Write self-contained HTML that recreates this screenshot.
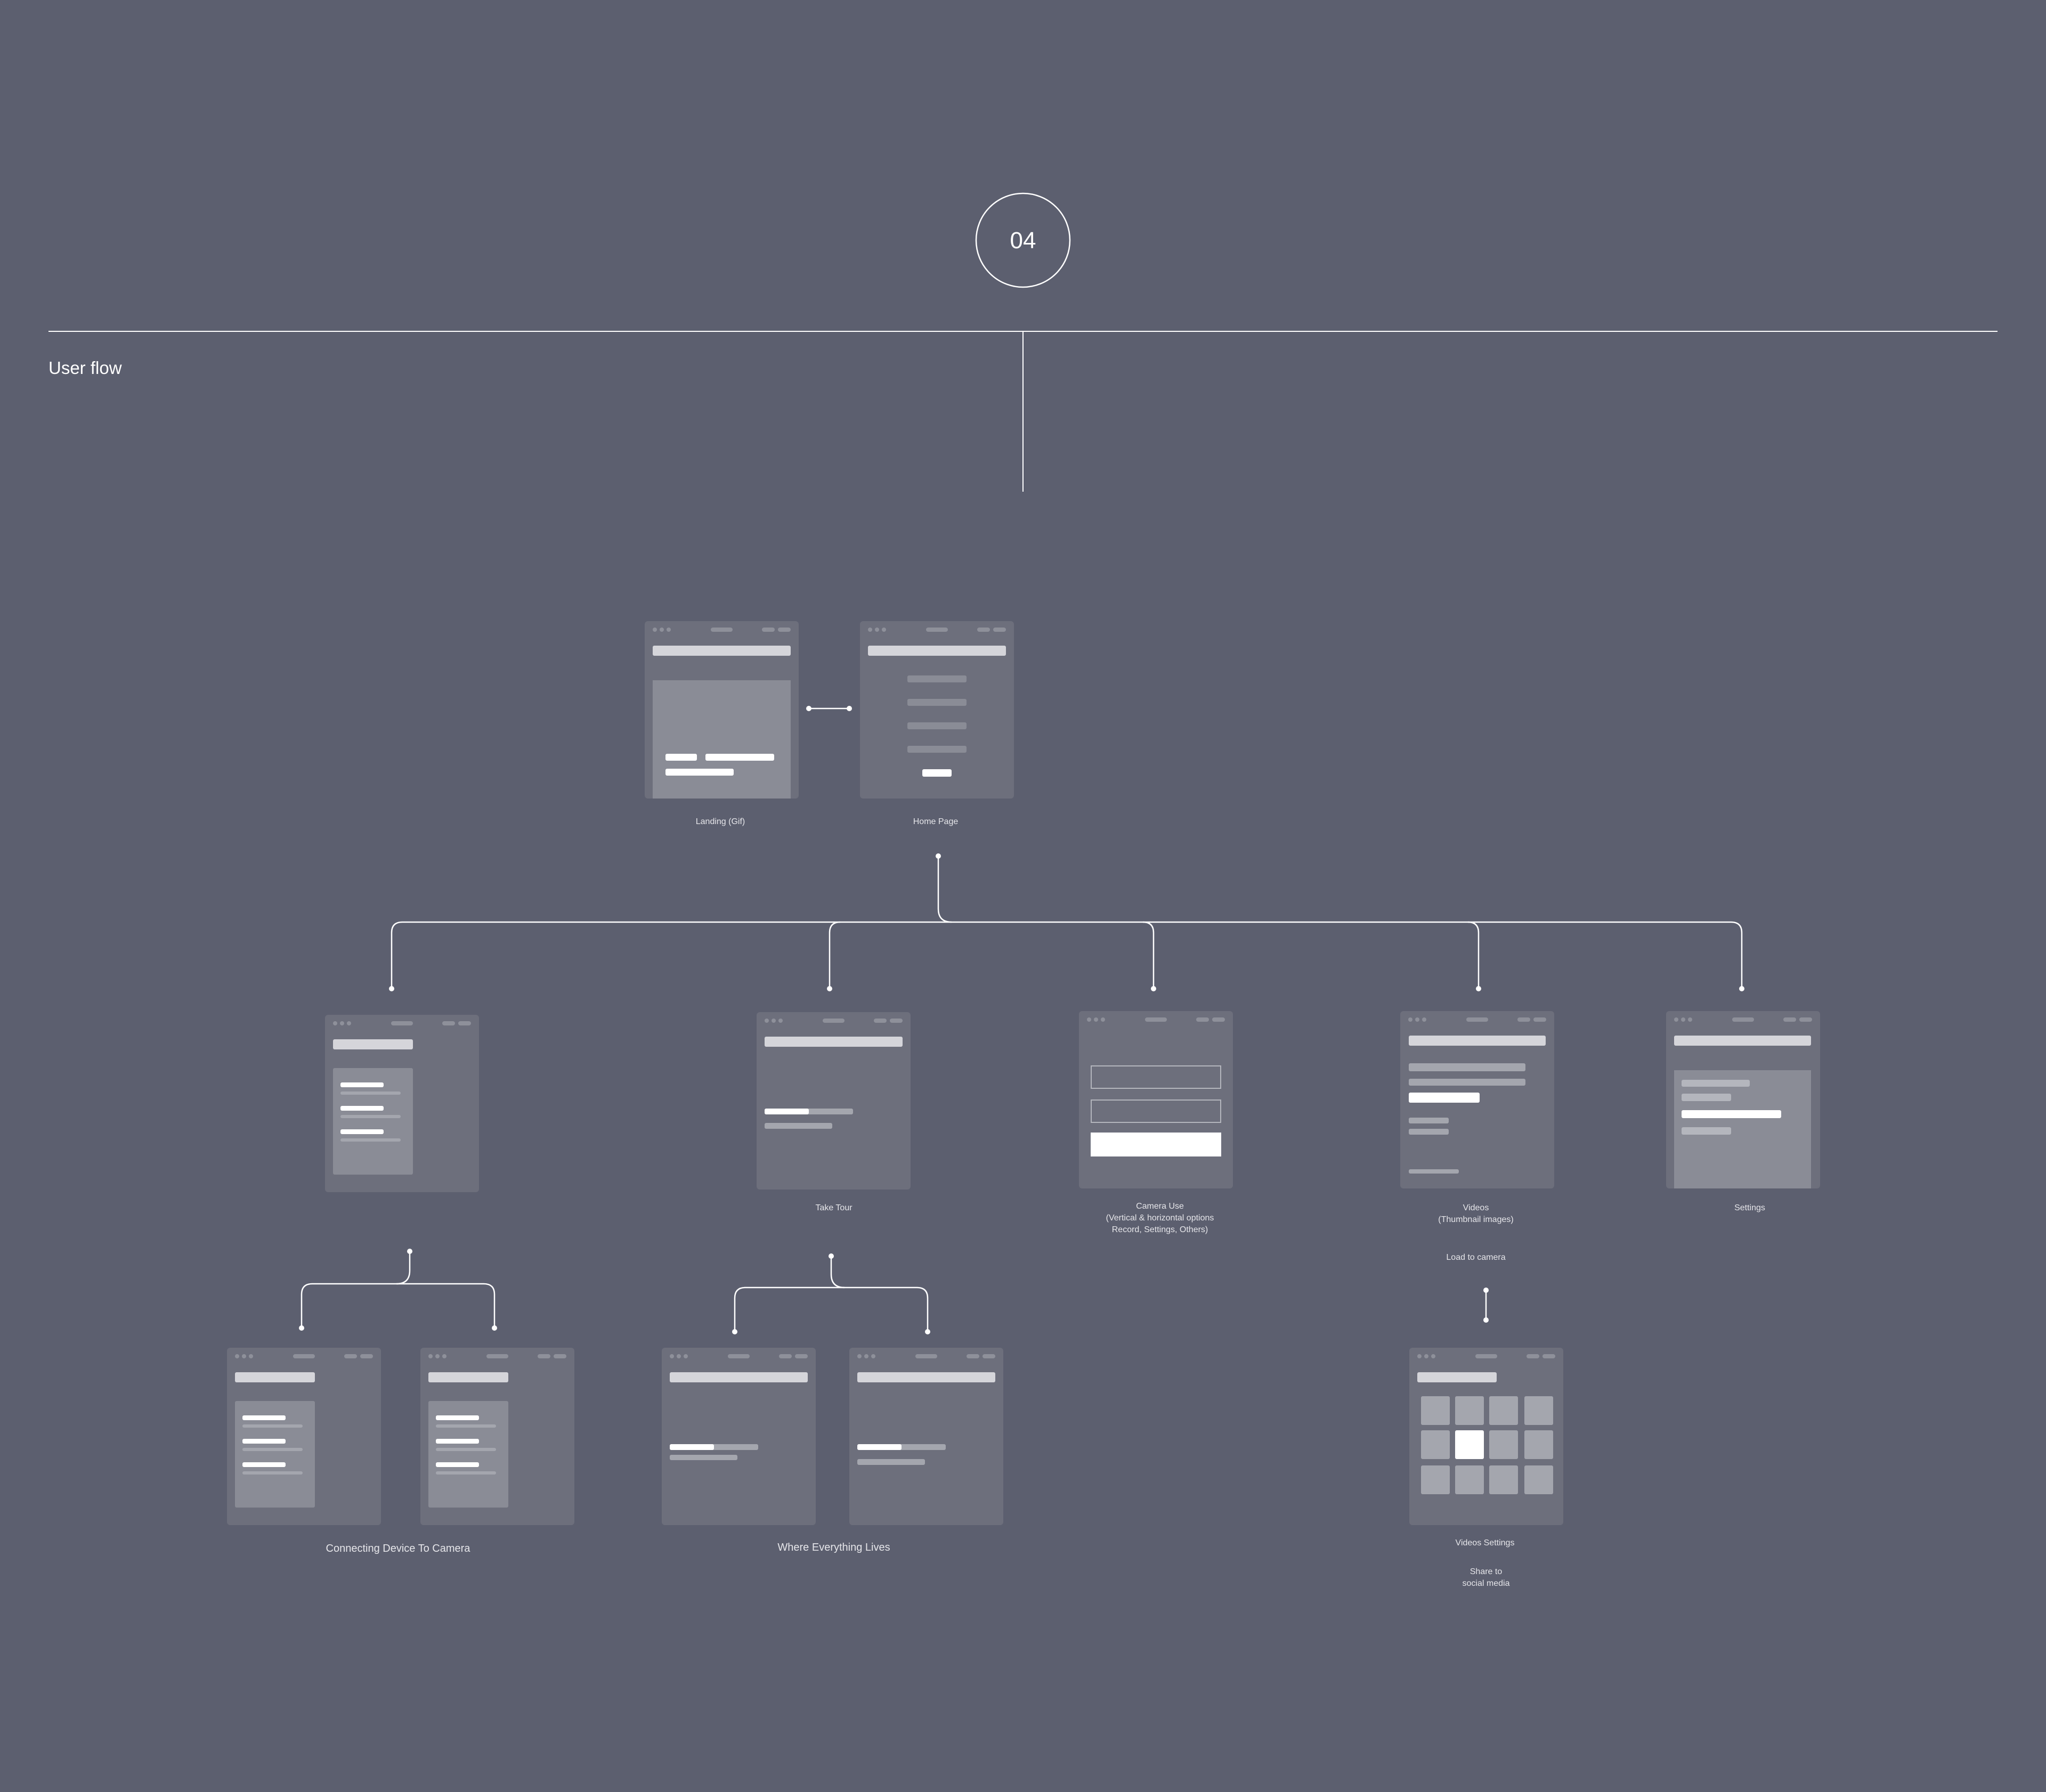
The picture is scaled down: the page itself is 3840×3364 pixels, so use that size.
<!DOCTYPE html>
<html><head><meta charset="utf-8"><style>
html,body{margin:0;padding:0}
body{width:3840px;height:3364px;background:#5c5f6f;position:relative;overflow:hidden;font-family:"Liberation Sans",sans-serif}
.f{position:absolute;width:289px;height:333px;background:#6d6f7c;border-radius:6px;overflow:hidden}
.f div{position:absolute;border-radius:3px}
.d{width:8px;height:8px;border-radius:50%!important;background:#8e909a;top:12px}
.p{height:8px;background:#8e909a;top:12px;border-radius:4px!important}
.t{left:15px;top:46px;height:19px;background:#d5d5da;width:259px}
.g{background:#8a8c96}
.w{background:#fff}
.l{background:#a4a6ae}
.lbl{position:absolute;color:#e6e6ea;font-size:16px;text-align:center;transform:translateX(-50%);white-space:nowrap;line-height:22px}
</style></head><body>

<svg width="3840" height="3364" style="position:absolute;left:0;top:0" fill="none" stroke="#fff" stroke-width="2.5">
<circle cx="1920" cy="451" r="88" stroke-width="2.5"/>
<line x1="91" y1="622" x2="3749" y2="622" stroke-width="2"/>
<line x1="1920" y1="622" x2="1920" y2="923" stroke-width="2"/>
<!-- landing-home -->
<line x1="1518" y1="1330" x2="1594" y2="1330"/>
<!-- home drop -->
<path d="M1761 1607 L1761 1706 Q1761 1731 1786 1731"/>
<path d="M755 1731 L3249 1731"/>
<path d="M735 1856 L735 1751 Q735 1731 755 1731"/>
<path d="M3269 1856 L3269 1751 Q3269 1731 3249 1731"/>
<path d="M1557 1856 L1557 1751 Q1557 1731 1577 1731"/>
<path d="M2165 1856 L2165 1751 Q2165 1731 2145 1731"/>
<path d="M2775 1856 L2775 1751 Q2775 1731 2755 1731"/>
<!-- A branch -->
<path d="M769 2349 L769 2385 Q769 2410 744 2410"/>
<path d="M586 2410 L908 2410"/>
<path d="M566 2493 L566 2430 Q566 2410 586 2410"/>
<path d="M928 2493 L928 2430 Q928 2410 908 2410"/>
<!-- B branch -->
<path d="M1560 2358 L1560 2392 Q1560 2417 1585 2417"/>
<path d="M1399 2417 L1721 2417"/>
<path d="M1379 2500 L1379 2437 Q1379 2417 1399 2417"/>
<path d="M1741 2500 L1741 2437 Q1741 2417 1721 2417"/>
<!-- videos -->
<line x1="2789" y1="2422" x2="2789" y2="2478"/>
<g fill="#fff" stroke="none">
<circle cx="1518" cy="1330" r="5"/><circle cx="1594" cy="1330" r="5"/>
<circle cx="1761" cy="1607" r="5"/>
<circle cx="735" cy="1856" r="5"/><circle cx="1557" cy="1856" r="5"/><circle cx="2165" cy="1856" r="5"/><circle cx="2775" cy="1856" r="5"/><circle cx="3269" cy="1856" r="5"/>
<circle cx="769" cy="2349" r="5"/><circle cx="566" cy="2493" r="5"/><circle cx="928" cy="2493" r="5"/>
<circle cx="1560" cy="2358" r="5"/><circle cx="1379" cy="2500" r="5"/><circle cx="1741" cy="2500" r="5"/>
<circle cx="2789" cy="2422" r="5"/><circle cx="2789" cy="2478" r="5"/>
</g>
<text x="1920" y="466" fill="#fff" stroke="none" font-family="Liberation Sans, sans-serif" font-size="44" text-anchor="middle">04</text>
<text x="91" y="702" fill="#fff" stroke="none" font-family="Liberation Sans, sans-serif" font-size="33">User flow</text>
</svg>

<!-- Landing -->
<div class="f" style="left:1210px;top:1166px">
<div class="d" style="left:15px"></div><div class="d" style="left:28px"></div><div class="d" style="left:41px"></div>
<div class="p" style="left:124px;width:41px"></div><div class="p" style="left:220px;width:24px"></div><div class="p" style="left:250px;width:24px"></div>
<div class="t"></div>
<div class="g" style="left:15px;top:111px;width:259px;height:240px;border-radius:0"></div>
<div class="w" style="left:39px;top:249px;width:59px;height:13px"></div>
<div class="w" style="left:114px;top:249px;width:129px;height:13px"></div>
<div class="w" style="left:39px;top:277px;width:128px;height:13px"></div>
</div>
<!-- Home -->
<div class="f" style="left:1614px;top:1166px">
<div class="d" style="left:15px"></div><div class="d" style="left:28px"></div><div class="d" style="left:41px"></div>
<div class="p" style="left:124px;width:41px"></div><div class="p" style="left:220px;width:24px"></div><div class="p" style="left:250px;width:24px"></div>
<div class="t"></div>
<div class="g" style="left:89px;top:102px;width:111px;height:13px"></div>
<div class="g" style="left:89px;top:146px;width:111px;height:13px"></div>
<div class="g" style="left:89px;top:190px;width:111px;height:13px"></div>
<div class="g" style="left:89px;top:234px;width:111px;height:13px"></div>
<div class="w" style="left:117px;top:278px;width:55px;height:14px"></div>
</div>
<div class="lbl" style="left:1352px;top:1532px">Landing (Gif)</div>
<div class="lbl" style="left:1756px;top:1532px">Home Page</div>

<!-- A -->
<div class="f" style="left:610px;top:1905px">
<div class="d" style="left:15px"></div><div class="d" style="left:28px"></div><div class="d" style="left:41px"></div>
<div class="p" style="left:124px;width:41px"></div><div class="p" style="left:220px;width:24px"></div><div class="p" style="left:250px;width:24px"></div>
<div class="t" style="width:150px"></div>
<div class="g" style="left:15px;top:100px;width:150px;height:200px"></div>
<div class="w" style="left:29px;top:127px;width:81px;height:9px"></div><div class="l" style="left:29px;top:144px;width:113px;height:6px"></div>
<div class="w" style="left:29px;top:171px;width:81px;height:9px"></div><div class="l" style="left:29px;top:188px;width:113px;height:6px"></div>
<div class="w" style="left:29px;top:215px;width:81px;height:9px"></div><div class="l" style="left:29px;top:232px;width:113px;height:6px"></div>
</div>
<!-- B Take tour -->
<div class="f" style="left:1420px;top:1900px">
<div class="d" style="left:15px"></div><div class="d" style="left:28px"></div><div class="d" style="left:41px"></div>
<div class="p" style="left:124px;width:41px"></div><div class="p" style="left:220px;width:24px"></div><div class="p" style="left:250px;width:24px"></div>
<div class="t"></div>
<div class="l" style="left:15px;top:181px;width:166px;height:11px"></div>
<div class="w" style="left:15px;top:181px;width:83px;height:11px"></div>
<div class="l" style="left:15px;top:208px;width:127px;height:11px"></div>
</div>
<!-- C Camera -->
<div class="f" style="left:2025px;top:1898px">
<div class="d" style="left:15px"></div><div class="d" style="left:28px"></div><div class="d" style="left:41px"></div>
<div class="p" style="left:124px;width:41px"></div><div class="p" style="left:220px;width:24px"></div><div class="p" style="left:250px;width:24px"></div>
<div style="left:22px;top:102px;width:241px;height:40px;border:2px solid #b4b6bd;border-radius:0"></div>
<div style="left:22px;top:166px;width:241px;height:40px;border:2px solid #b4b6bd;border-radius:0"></div>
<div class="w" style="left:22px;top:228px;width:245px;height:45px;border-radius:0"></div>
</div>
<!-- D Videos -->
<div class="f" style="left:2628px;top:1898px">
<div class="d" style="left:15px"></div><div class="d" style="left:28px"></div><div class="d" style="left:41px"></div>
<div class="p" style="left:124px;width:41px"></div><div class="p" style="left:220px;width:24px"></div><div class="p" style="left:250px;width:24px"></div>
<div class="t" style="left:16px;width:257px"></div>
<div class="l" style="left:16px;top:98px;width:219px;height:15px"></div>
<div class="l" style="left:16px;top:127px;width:219px;height:13px"></div>
<div class="w" style="left:16px;top:153px;width:133px;height:19px"></div>
<div class="l" style="left:16px;top:200px;width:75px;height:11px"></div>
<div class="l" style="left:16px;top:221px;width:75px;height:11px"></div>
<div class="l" style="left:16px;top:297px;width:94px;height:8px"></div>
</div>
<!-- E Settings -->
<div class="f" style="left:3127px;top:1898px">
<div class="d" style="left:15px"></div><div class="d" style="left:28px"></div><div class="d" style="left:41px"></div>
<div class="p" style="left:124px;width:41px"></div><div class="p" style="left:220px;width:24px"></div><div class="p" style="left:250px;width:24px"></div>
<div class="t" style="left:15px;width:257px"></div>
<div class="g" style="left:15px;top:111px;width:257px;height:240px;border-radius:0"></div>
<div style="left:29px;top:129px;width:128px;height:13px;background:#b4b6bd"></div>
<div style="left:29px;top:155px;width:93px;height:14px;background:#b4b6bd"></div>
<div class="w" style="left:29px;top:186px;width:187px;height:15px"></div>
<div style="left:29px;top:218px;width:93px;height:14px;background:#b4b6bd"></div>
</div>
<div class="lbl" style="left:1565px;top:2257px">Take Tour</div>
<div class="lbl" style="left:2177px;top:2254px">Camera Use<br>(Vertical &amp; horizontal options<br>Record, Settings, Others)</div>
<div class="lbl" style="left:2770px;top:2257px">Videos<br>(Thumbnail images)</div>
<div class="lbl" style="left:3284px;top:2257px">Settings</div>
<div class="lbl" style="left:2770px;top:2350px">Load to camera</div>

<!-- F, G -->
<div class="f" style="left:426px;top:2530px">
<div class="d" style="left:15px"></div><div class="d" style="left:28px"></div><div class="d" style="left:41px"></div>
<div class="p" style="left:124px;width:41px"></div><div class="p" style="left:220px;width:24px"></div><div class="p" style="left:250px;width:24px"></div>
<div class="t" style="width:150px"></div>
<div class="g" style="left:15px;top:100px;width:150px;height:200px"></div>
<div class="w" style="left:29px;top:127px;width:81px;height:9px"></div><div class="l" style="left:29px;top:144px;width:113px;height:6px"></div>
<div class="w" style="left:29px;top:171px;width:81px;height:9px"></div><div class="l" style="left:29px;top:188px;width:113px;height:6px"></div>
<div class="w" style="left:29px;top:215px;width:81px;height:9px"></div><div class="l" style="left:29px;top:232px;width:113px;height:6px"></div>
</div>
<div class="f" style="left:789px;top:2530px">
<div class="d" style="left:15px"></div><div class="d" style="left:28px"></div><div class="d" style="left:41px"></div>
<div class="p" style="left:124px;width:41px"></div><div class="p" style="left:220px;width:24px"></div><div class="p" style="left:250px;width:24px"></div>
<div class="t" style="width:150px"></div>
<div class="g" style="left:15px;top:100px;width:150px;height:200px"></div>
<div class="w" style="left:29px;top:127px;width:81px;height:9px"></div><div class="l" style="left:29px;top:144px;width:113px;height:6px"></div>
<div class="w" style="left:29px;top:171px;width:81px;height:9px"></div><div class="l" style="left:29px;top:188px;width:113px;height:6px"></div>
<div class="w" style="left:29px;top:215px;width:81px;height:9px"></div><div class="l" style="left:29px;top:232px;width:113px;height:6px"></div>
</div>
<!-- H, I -->
<div class="f" style="left:1242px;top:2530px">
<div class="d" style="left:15px"></div><div class="d" style="left:28px"></div><div class="d" style="left:41px"></div>
<div class="p" style="left:124px;width:41px"></div><div class="p" style="left:220px;width:24px"></div><div class="p" style="left:250px;width:24px"></div>
<div class="t"></div>
<div class="l" style="left:15px;top:181px;width:166px;height:11px"></div>
<div class="w" style="left:15px;top:181px;width:83px;height:11px"></div>
<div class="l" style="left:15px;top:201px;width:127px;height:10px"></div>
</div>
<div class="f" style="left:1594px;top:2530px">
<div class="d" style="left:15px"></div><div class="d" style="left:28px"></div><div class="d" style="left:41px"></div>
<div class="p" style="left:124px;width:41px"></div><div class="p" style="left:220px;width:24px"></div><div class="p" style="left:250px;width:24px"></div>
<div class="t"></div>
<div class="l" style="left:15px;top:181px;width:166px;height:11px"></div>
<div class="w" style="left:15px;top:181px;width:83px;height:11px"></div>
<div class="l" style="left:15px;top:209px;width:127px;height:11px"></div>
</div>
<!-- J grid -->
<div class="f" style="left:2645px;top:2530px">
<div class="d" style="left:15px"></div><div class="d" style="left:28px"></div><div class="d" style="left:41px"></div>
<div class="p" style="left:124px;width:41px"></div><div class="p" style="left:220px;width:24px"></div><div class="p" style="left:250px;width:24px"></div>
<div class="t" style="width:149px"></div>
<div style="left:22px;top:91px;width:54px;height:54px;background:#a4a6ae"></div>
<div style="left:86px;top:91px;width:54px;height:54px;background:#a4a6ae"></div>
<div style="left:150px;top:91px;width:54px;height:54px;background:#a4a6ae"></div>
<div style="left:216px;top:91px;width:54px;height:54px;background:#a4a6ae"></div>
<div style="left:22px;top:155px;width:54px;height:54px;background:#a4a6ae"></div>
<div style="left:86px;top:155px;width:54px;height:54px;background:#fff"></div>
<div style="left:150px;top:155px;width:54px;height:54px;background:#a4a6ae"></div>
<div style="left:216px;top:155px;width:54px;height:54px;background:#a4a6ae"></div>
<div style="left:22px;top:221px;width:54px;height:54px;background:#a4a6ae"></div>
<div style="left:86px;top:221px;width:54px;height:54px;background:#a4a6ae"></div>
<div style="left:150px;top:221px;width:54px;height:54px;background:#a4a6ae"></div>
<div style="left:216px;top:221px;width:54px;height:54px;background:#a4a6ae"></div>
</div>
<div class="lbl" style="left:747px;top:2896px;font-size:20px">Connecting Device To Camera</div>
<div class="lbl" style="left:1565px;top:2894px;font-size:20px">Where Everything Lives</div>
<div class="lbl" style="left:2787px;top:2886px">Videos Settings</div>
<div class="lbl" style="left:2789px;top:2940px">Share to<br>social media</div>
</body></html>
